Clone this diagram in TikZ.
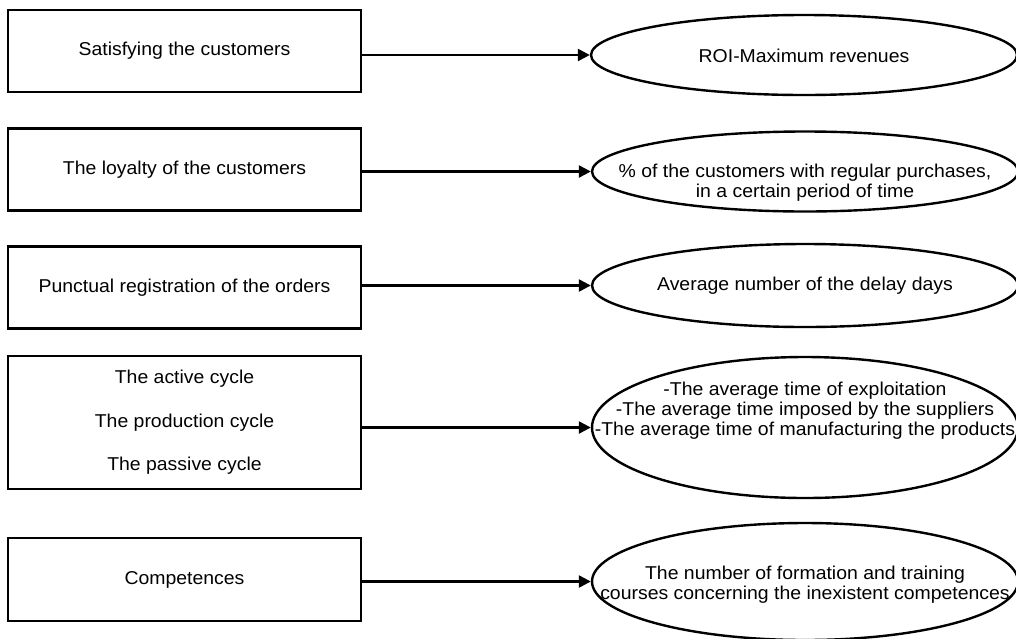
\documentclass[tikz,border=0pt]{standalone}
\usepackage{fontspec}
\setmainfont[FakeStretch=1.045]{Liberation Sans}
\usetikzlibrary{shapes.geometric,arrows.meta}
\newcommand\diafont{\fontsize{18.6pt}{20pt}\selectfont}
\begin{document}
\begin{tikzpicture}[x=1pt,y=-1pt,
  box/.style={draw,line width=2.4pt,rectangle,minimum width=353pt,minimum height=82pt,inner sep=0pt,font=\diafont,align=center},
  ell/.style={draw,line width=2.4pt,ellipse,minimum width=426pt,inner sep=0pt},
  txt/.style={font=\diafont,align=center,inner sep=0pt},
  arr/.style={line width=2.4pt,-{Triangle[length=12pt,width=12pt]}}]
\useasboundingbox (0,0) rectangle (1016,638);
\clip (0,0) rectangle (1016,638);
\fill[white] (0,0) rectangle (1016,638);
% left boxes
\node[box] (b1) at (184.5,51) {Satisfying the customers};
\node[box] (b2) at (184.5,169.5) {The loyalty of the customers};
\node[box] (b3) at (184.5,287.5) {Punctual registration of the orders};
\node[box,minimum height=133pt] (b4) at (184.5,422.5) {The active cycle\\[23.5pt]The production cycle\\[23.5pt]The passive cycle};
\node[box,minimum height=83pt] (b5) at (184.5,579.5) {Competences};
% right ellipses
\node[ell,minimum height=80pt] (e1) at (804,55) {};
\node[ell,minimum height=80pt] (e2) at (805,171.5) {};
\node[ell,minimum height=83pt] (e3) at (805,285.5) {};
\node[ell,minimum height=141pt] (e4) at (805,427.5) {};
\node[ell,minimum height=117pt] (e5) at (805,581.5) {};
% ellipse texts
\node[txt] (t1) at (804,55.5) {ROI-Maximum revenues};
\node[txt] (t2) at (805,182.5) {\% of the customers with regular purchases,\\in a certain period of time};
\node[txt] (t3) at (805,285.5) {Average number of the delay days};
\node[txt] (t4) at (805,411) {-The average time of exploitation\\-The average time imposed by the suppliers\\-The average time of manufacturing the products};
\node[txt] (t5) at (805,584.5) {The number of formation and training\\courses concerning the inexistent competences};
% connectors
\draw[arr] (b1.east |- e1.west) -- (e1.west);
\draw[arr] (b2.east |- e2.west) -- (e2.west);
\draw[arr] (b3.east |- e3.west) -- (e3.west);
\draw[arr] (b4.east |- e4.west) -- (e4.west);
\draw[arr] (b5.east |- e5.west) -- (e5.west);
\end{tikzpicture}
\end{document}
